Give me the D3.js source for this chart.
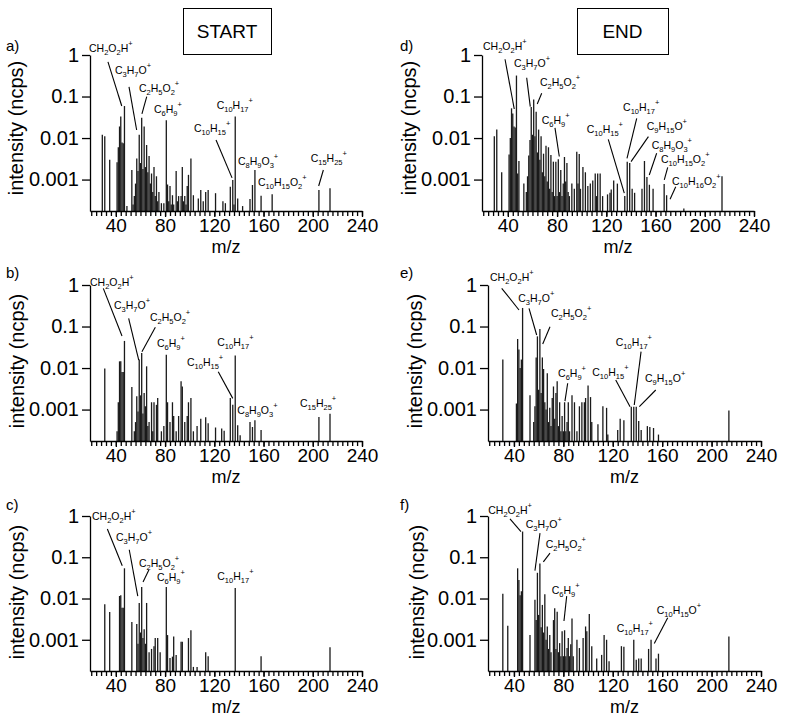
<!DOCTYPE html>
<html><head><meta charset="utf-8">
<script src="https://cdn.jsdelivr.net/npm/d3@7"></script>
<style>
body{margin:0;background:#fff}
svg{display:block}
text{font-family:Arial,"Liberation Sans",sans-serif;fill:#000}
</style>
</head><body>
<svg id="chart" width="785" height="728"></svg>
<script>
// ---------------- DATA ----------------
const mzDomain = [19, 240];
const yDomain = [1.75e-4, 1];
const yTicks = [1, 0.1, 0.01, 0.001];
const yTickLabels = ["1", "0.1", "0.01", "0.001"];
const xTicks = [40, 80, 120, 160, 200, 240];
const xMinorTicks = d3.range(20, 241, 4);
const panelLetters = ["a)", "b)", "c)", "d)", "e)", "f)"];
const columnTitles = ["START", "END"];

// peaks: [m/z, intensity (ncps)]
const peaksA = [[29,0.012],[31,0.011],[35,0.003],[41,0.0026],[42,0.006],[43,0.019],[44,0.033],[45,0.0078],[46,0.0075],[47,0.059],[49,0.00023],[53,0.0017],[54,0.00025],[55,0.0004],[56,0.0008],[57,0.0032],[58,0.0016],[59,0.012],[60,0.0025],[61,0.031],[62,0.0018],[63,0.019],[64,0.002],[65,0.0068],[66,0.0015],[67,0.0037],[68,0.0008],[69,0.0014],[70,0.0005],[71,0.002],[72,0.0004],[73,0.0012],[74,0.0003],[75,0.0005],[77,0.00027],[79,0.00027],[81,0.027],[82,0.00076],[83,0.0003],[84,0.0007],[85,0.00025],[86,0.00042],[87,0.00025],[89,0.0016],[90,0.0003],[91,0.0004],[93,0.0004],[94,0.002],[95,0.0003],[96,0.0004],[97,0.00025],[98,0.0007],[99,0.0013],[101,0.0032],[103,0.00042],[107,0.00035],[109,0.00056],[111,0.0003],[113,0.0005],[115,0.00056],[121,0.00047],[127,0.0003],[129,0.00027],[133,0.00067],[135,0.00098],[136,0.00025],[137,0.033],[139,0.00035],[143,0.00023],[149,0.00034],[151,0.00074],[153,0.0017],[158,0.00041],[167,0.00044],[205,0.00056],[214,0.00062]];
const peaksB = [[31,0.0097],[41,0.0003],[42,0.0015],[43,0.0145],[44,0.0145],[45,0.008],[46,0.008],[47,0.045],[53,0.0035],[55,0.0003],[56,0.0005],[57,0.0021],[58,0.0009],[59,0.016],[60,0.0022],[61,0.023],[62,0.0008],[63,0.0025],[64,0.0012],[65,0.011],[66,0.0004],[67,0.0005],[69,0.0015],[70,0.0003],[71,0.0015],[73,0.0013],[74,0.0019],[77,0.0003],[79,0.0004],[81,0.021],[82,0.0015],[84,0.0005],[86,0.0015],[87,0.0007],[89,0.0003],[91,0.0007],[93,0.0048],[94,0.0036],[96,0.0005],[98,0.0007],[99,0.0015],[101,0.0019],[103,0.0003],[106,0.0004],[109,0.0006],[113,0.00065],[115,0.00047],[121,0.00037],[126,0.00035],[128,0.00031],[133,0.0019],[135,0.0013],[137,0.02],[139,0.00042],[141,0.00024],[149,0.0005],[151,0.00038],[153,0.00055],[158,0.00032],[205,0.00066],[214,0.00079]];
const peaksC = [[31,0.0073],[35,0.0047],[43,0.0115],[44,0.012],[45,0.006],[46,0.006],[47,0.054],[53,0.0027],[57,0.0024],[58,0.0008],[59,0.0078],[60,0.0015],[61,0.019],[62,0.0011],[63,0.0018],[64,0.0008],[65,0.0078],[67,0.0005],[69,0.0006],[71,0.0007],[72,0.0011],[74,0.0011],[76,0.0005],[81,0.019],[82,0.0013],[84,0.00036],[86,0.00039],[87,0.0012],[89,0.00043],[93,0.0009],[94,0.0009],[99,0.0011],[101,0.0017],[103,0.00022],[106,0.00022],[113,0.0005],[115,0.0004],[137,0.018],[158,0.0004],[214,0.00066]];
const peaksD = [[29,0.011],[31,0.016],[35,0.0015],[41,0.004],[42,0.01],[43,0.052],[44,0.039],[45,0.019],[46,0.018],[47,0.32],[48,0.0014],[49,0.0028],[53,0.0008],[55,0.0005],[56,0.0012],[57,0.0038],[58,0.009],[59,0.056],[60,0.012],[61,0.085],[62,0.011],[63,0.043],[64,0.0045],[65,0.016],[66,0.003],[67,0.011],[68,0.0015],[69,0.0042],[70,0.0012],[71,0.0065],[72,0.0009],[73,0.006],[74,0.0006],[75,0.0039],[76,0.0005],[77,0.0027],[78,0.0004],[79,0.0027],[80,0.0004],[81,0.0031],[82,0.0005],[83,0.0017],[84,0.0004],[85,0.0008],[86,0.0035],[87,0.0009],[88,0.0025],[89,0.0005],[90,0.0004],[92,0.0008],[94,0.0006],[96,0.0047],[97,0.0008],[98,0.0041],[99,0.0006],[101,0.002],[103,0.0015],[105,0.0007],[107,0.0008],[109,0.00095],[111,0.0014],[112,0.0004],[113,0.0014],[115,0.0014],[117,0.0004],[121,0.00044],[123,0.00048],[124,0.00058],[126,0.00095],[129,0.0008],[135,0.0004],[137,0.0027],[139,0.0025],[141,0.0006],[143,0.00048],[149,0.0006],[151,0.0028],[153,0.00115],[155,0.00075],[158,0.0006],[167,0.00078],[169,0.00042],[183,0.0002],[214,0.0012]];
const peaksE = [[31,0.016],[42,0.0014],[43,0.05],[44,0.028],[45,0.01],[46,0.016],[47,0.28],[53,0.0022],[56,0.0005],[57,0.0012],[58,0.018],[59,0.058],[60,0.003],[61,0.087],[62,0.0025],[63,0.018],[64,0.0095],[65,0.0015],[66,0.001],[67,0.0075],[68,0.0005],[69,0.0011],[70,0.0004],[71,0.0019],[72,0.0036],[73,0.0006],[74,0.0025],[75,0.0048],[76,0.0004],[77,0.0015],[78,0.0003],[79,0.0007],[80,0.0003],[81,0.0015],[82,0.0003],[83,0.0005],[84,0.0015],[85,0.0003],[87,0.0022],[89,0.0015],[91,0.0003],[93,0.0012],[95,0.0015],[97,0.0015],[98,0.0019],[100,0.0038],[102,0.002],[103,0.0005],[108,0.00044],[112,0.0012],[115,0.0011],[116,0.00025],[124,0.00032],[126,0.0006],[129,0.00055],[135,0.00117],[137,0.00117],[139,0.00117],[141,0.00053],[143,0.00032],[148,0.0004],[150,0.00038],[153,0.00036],[157,0.00025],[214,0.00095]];
const peaksF = [[31,0.013],[35,0.0022],[43,0.054],[44,0.028],[45,0.012],[46,0.015],[47,0.42],[53,0.0013],[57,0.0093],[58,0.003],[59,0.042],[60,0.004],[61,0.071],[62,0.002],[63,0.007],[64,0.0015],[65,0.0127],[66,0.001],[67,0.0021],[68,0.0006],[69,0.0013],[70,0.0005],[72,0.003],[73,0.0058],[74,0.0006],[75,0.0048],[76,0.0005],[77,0.00083],[78,0.0004],[79,0.0016],[80,0.0004],[81,0.0017],[82,0.0004],[83,0.00063],[84,0.0011],[85,0.0004],[86,0.00078],[87,0.0033],[88,0.0004],[91,0.001],[93,0.00063],[96,0.0011],[98,0.0021],[99,0.0016],[101,0.0042],[103,0.0007],[107,0.00035],[111,0.00043],[113,0.0013],[115,0.001],[117,0.0003],[127,0.0007],[129,0.00068],[137,0.001],[139,0.00033],[141,0.00035],[143,0.00035],[149,0.0006],[151,0.001],[155,0.00035],[157,0.00046],[214,0.0012]];

// annotations: formula, text anchor (m/z, intensity), optional leader line [mz1,int1,mz2,int2]
const annA = [
 {f:"CH2O2H+", tx:18.2, ty:1.18, l:[33.6,0.68,44.8,0.059]},
 {f:"C3H7O+", tx:39.3, ty:0.35, l:[50.7,0.17,56.9,0.0156]},
 {f:"C2H5O2+", tx:58.8, ty:0.128, l:[65.1,0.099,61.2,0.038]},
 {f:"C6H9+", tx:71, ty:0.040},
 {f:"C10H17+", tx:121.9, ty:0.050},
 {f:"C10H15+", tx:103.5, ty:0.014, l:[121.4,0.009,134.4,0.0011]},
 {f:"C8H9O3+", tx:139.2, ty:0.00228},
 {f:"C10H15O2+", tx:155.5, ty:0.00071},
 {f:"C15H25+", tx:198.3, ty:0.00265, l:[208.6,0.0017,204.8,0.0007]}
];
const annB = [
 {f:"CH2O2H+", tx:19, ty:0.96, l:[29.8,0.83,45,0.059]},
 {f:"C3H7O+", tx:38.5, ty:0.264, l:[50.4,0.158,58.6,0.0156]},
 {f:"C2H5O2+", tx:67.7, ty:0.138, l:[72.1,0.096,61.2,0.0248]},
 {f:"C6H9+", tx:73.4, ty:0.0318},
 {f:"C10H17+", tx:122.4, ty:0.0348},
 {f:"C10H15+", tx:97.8, ty:0.0114, l:[123.2,0.0081,135,0.00186]},
 {f:"C8H9O3+", tx:138.7, ty:0.00078},
 {f:"C15H25+", tx:189.6, ty:0.00113}
];
const annC = [
 {f:"CH2O2H+", tx:20.6, ty:0.81, l:[33.1,0.486,45.2,0.0625]},
 {f:"C3H7O+", tx:40.1, ty:0.254, l:[50.9,0.152,57.8,0.0114]},
 {f:"C2H5O2+", tx:58.8, ty:0.058, l:[66.9,0.05,62.1,0.025]},
 {f:"C6H9+", tx:73.4, ty:0.0265},
 {f:"C10H17+", tx:122.4, ty:0.0277}
];
const annD = [
 {f:"CH2O2H+", tx:19.8, ty:1.32, l:[37.7,0.79,45.2,0.05]},
 {f:"C3H7O+", tx:45, ty:0.514, l:[55.3,0.284,58.2,0.0569]},
 {f:"C2H5O2+", tx:66.1, ty:0.182, l:[67.5,0.12,63.9,0.066]},
 {f:"C6H9+", tx:67.5, ty:0.0218, l:[78.3,0.0175,81.8,0.0036]},
 {f:"C10H15+", tx:104.1, ty:0.0132, l:[121.6,0.0093,134.6,0.00047]},
 {f:"C10H17+", tx:133.6, ty:0.0448, l:[144.7,0.0299,136.8,0.00325]},
 {f:"C9H15O+", tx:152.8, ty:0.0159, l:[154.2,0.0108,140.1,0.0027]},
 {f:"C8H9O3+", tx:156.9, ty:0.00545, l:[160.9,0.0043,154.9,0.00129]},
 {f:"C10H15O2+", tx:164.4, ty:0.0025, l:[169.9,0.00197,167.1,0.00098]},
 {f:"C10H16O2+", tx:173.4, ty:0.00075, l:[176.4,0.00067,171.8,0.000335]}
];
const annE = [
 {f:"CH2O2H+", tx:20.6, ty:1.27, l:[30.1,0.83,44.1,0.25]},
 {f:"C3H7O+", tx:43.5, ty:0.383, l:[52.2,0.275,58.4,0.0625]},
 {f:"C2H5O2+", tx:70, ty:0.167, l:[69.2,0.099,63.3,0.038]},
 {f:"C6H9+", tx:75.7, ty:0.006, l:[83.5,0.0043,81.3,0.0016]},
 {f:"C10H15+", tx:103.4, ty:0.00655, l:[122.4,0.00516,134,0.00117]},
 {f:"C10H17+", tx:122.4, ty:0.0345, l:[142.9,0.0248,137.4,0.00129]},
 {f:"C9H15O+", tx:146.1, ty:0.0045, l:[154.8,0.00296,141.5,0.00117]}
];
const annF = [
 {f:"CH2O2H+", tx:19.2, ty:1.12, l:[36.8,0.85,45.7,0.42]},
 {f:"C3H7O+", tx:49.5, ty:0.505, l:[61.1,0.383,57,0.0473]},
 {f:"C2H5O2+", tx:65.7, ty:0.167, l:[69.2,0.126,63.8,0.077]},
 {f:"C6H9+", tx:70.6, ty:0.0132, l:[82.7,0.0114,80.5,0.00285]},
 {f:"C10H17+", tx:123.2, ty:0.00155},
 {f:"C10H15O+", tx:155.6, ty:0.0041, l:[164.5,0.00344,153.6,0.00081]}
];

// ---------------- LAYOUT ----------------
const layout = [
 {peaks:peaksA, ann:annA, x0:90,  x1:362, top:55,  bottom:211, lx:6,   ly:51,  yl:[16,128]},
 {peaks:peaksB, ann:annB, x0:90,  x1:362, top:285, bottom:441, lx:6,   ly:278, yl:[17,361]},
 {peaks:peaksC, ann:annC, x0:90,  x1:362, top:516, bottom:671, lx:6,   ly:510, yl:[17,592]},
 {peaks:peaksD, ann:annD, x0:482, x1:754, top:55,  bottom:211, lx:400, ly:51,  yl:[409,128]},
 {peaks:peaksE, ann:annE, x0:488, x1:761, top:285, bottom:441, lx:400, ly:278, yl:[415,361]},
 {peaks:peaksF, ann:annF, x0:488, x1:761, top:516, bottom:671, lx:400, ly:510, yl:[417,592]}
];
const titleBoxes = [{x:183, y:8, w:88, h:46}, {x:577, y:8, w:91, h:46}];

const svg = d3.select("#chart");

function formula(textSel, s) {
  const tokens = s.match(/[A-Za-z]+|\d+|\+/g);
  let shift = 0;
  tokens.forEach(tok => {
    let target = 0, size = 10.5;
    if (/^\d+$/.test(tok)) { target = 3; size = 7.5; }
    else if (tok === "+") { target = -6; size = 7.5; }
    textSel.append("tspan").attr("dy", target - shift).attr("font-size", size).text(tok);
    shift = target;
  });
}

layout.forEach((L, i) => {
  const g = svg.append("g");
  const x = d3.scaleLinear().domain(mzDomain).range([L.x0, L.x1]);
  const y = d3.scaleLog().domain(yDomain).range([L.bottom, L.top]);

  // bars
  g.append("g").selectAll("line")
    .data(L.peaks.filter(p => p[1] > yDomain[0]))
    .join("line")
    .attr("x1", d => x(d[0])).attr("x2", d => x(d[0]))
    .attr("y1", L.bottom).attr("y2", d => y(d[1]))
    .attr("stroke", "#1a1a1a").attr("stroke-width", 1.3);

  // y axis
  const ya = g.append("g").attr("transform", `translate(${L.x0},0)`)
    .call(d3.axisLeft(y).tickValues(yTicks).tickFormat((d, k) => yTickLabels[k])
      .tickSize(8).tickPadding(3).tickSizeOuter(0));
  // x axis minor
  const xm = g.append("g").attr("transform", `translate(0,${L.bottom})`)
    .call(d3.axisBottom(x).tickValues(xMinorTicks).tickSize(5).tickSizeOuter(0));
  xm.select(".domain").remove();
  xm.selectAll("text").remove();
  // x axis major
  const xa = g.append("g").attr("transform", `translate(0,${L.bottom})`)
    .call(d3.axisBottom(x).tickValues(xTicks).tickSize(6).tickPadding(2).tickSizeOuter(0));
  [ya, xm, xa].forEach(a => {
    a.attr("font-family", null).attr("font-size", null);
    a.selectAll("path,line").attr("stroke", "#000").attr("stroke-width", 1.3);
  });
  ya.selectAll("text").attr("font-size", 20).attr("fill", "#000");
  xa.selectAll("text").attr("font-size", 19).attr("fill", "#000");

  // axis titles
  g.append("text").attr("x", (L.x0 + L.x1) / 2).attr("y", L.bottom + 42)
    .attr("text-anchor", "middle").attr("font-size", 18).text("m/z");
  g.append("text").attr("transform", `translate(${L.yl[0]},${L.yl[1]}) rotate(-90)`)
    .attr("text-anchor", "middle").attr("dy", "0.35em").attr("font-size", 20)
    .text("intensity (ncps)");
  g.append("text").attr("x", L.lx).attr("y", L.ly).attr("font-size", 15).text(panelLetters[i]);

  // annotations
  L.ann.forEach(a => {
    if (a.l) {
      g.append("line")
        .attr("x1", x(a.l[0])).attr("y1", y(a.l[1]))
        .attr("x2", x(a.l[2])).attr("y2", y(a.l[3]))
        .attr("stroke", "#000").attr("stroke-width", 1.1);
    }
    const t = g.append("text").attr("x", x(a.tx)).attr("y", y(a.ty));
    formula(t, a.f);
  });
});

// column title boxes
titleBoxes.forEach((b, i) => {
  svg.append("rect").attr("x", b.x + 0.5).attr("y", b.y + 0.5).attr("width", b.w).attr("height", b.h)
    .attr("fill", "none").attr("stroke", "#000").attr("stroke-width", 1);
  svg.append("text").attr("x", b.x + b.w / 2).attr("y", b.y + b.h / 2).attr("dy", "0.35em")
    .attr("text-anchor", "middle").attr("font-size", 19).text(columnTitles[i]);
});
</script>
</body></html>
